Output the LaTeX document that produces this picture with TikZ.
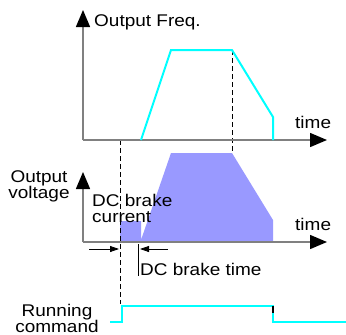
\documentclass[tikz,border=0pt]{standalone}
\usepackage{fontspec}
\setmainfont{Liberation Sans}
\usepackage{xcolor}
\usepackage{tikz}
\usetikzlibrary{arrows.meta,positioning}

\definecolor{sigcyan}{RGB}{0,255,255}
\definecolor{voltblue}{RGB}{153,153,255}
\definecolor{axisgray}{RGB}{128,128,128}

\begin{document}
\begin{tikzpicture}[x=1bp, y=-1bp,
  every node/.style={font=\fontsize{17}{16}\selectfont, inner sep=0pt, xscale=1.12},
  axis/.style={axisgray, line width=1.5bp, -{Triangle[length=17bp,width=14bp,black]}},
  wave/.style={sigcyan, line width=2bp},
  guide/.style={black, line width=0.8bp, dash pattern=on 5bp off 3bp},
  span/.style={black, line width=0.8bp, -{Triangle[length=9bp,width=6bp]}}]
  \useasboundingbox (0,0) rectangle (346,335);
  \coordinate (f0) at (83,140);
  \coordinate (fy) at (83,10);
  \coordinate (fx) at (327,140);
  \coordinate (v0) at (83,242);
  \coordinate (vy) at (83,172);
  \coordinate (vx) at (327,242);
  \fill[voltblue] (120,242) -- (120,221) -- (141,221) -- (141,240) -- (171,153)
    -- (232,153) -- (273,220) -- (273,242) -- cycle;
  \draw[guide] (120,140) -- (120,304);
  \draw[guide] (232,50) -- (232,153);
  \draw[axis] (f0) -- (fy);
  \draw[axis] (f0) -- (fx);
  \draw[axis] (v0) -- (vy);
  \draw[axis] (v0) -- (vx);
  \draw[wave] (141,140) -- (171,50) -- (232,50) -- (273,117) -- (273,140);
  \draw[wave] (110,322) -- (122,322) -- (122,306) -- (273,306) -- (273,322) -- (346,322);
  \draw[black, line width=1.5bp] (273,306) -- (273,313);
  \node[anchor=base west] (freq) at (94,26) {Output Freq.};
  \node[anchor=base west] (ftime) at (295,128) {time};
  \node[anchor=base west] (vtime) at (295,230) {time};
  \node[anchor=base, align=center] (volt) at (39,198) {Output\\voltage};
  \node[anchor=base west, align=left] (dccur) at (92,222) {DC brake\\current};
  \node[anchor=base west] (dctime) at (140,275) {DC brake time};
  \node[anchor=base, align=center] (run) at (57,332) {Running\\command};
  \coordinate (brakeL) at (89,249);
  \coordinate (brakeS) at (119,249);
  \coordinate (brakeR) at (168,249);
  \coordinate (brakeE) at (140,249);
  \draw[span] (brakeL) -- (brakeS);
  \draw[span] (brakeR) -- (brakeE);
  \draw[black, line width=0.8bp] (138,244) -- (138,276);
\end{tikzpicture}
\end{document}
